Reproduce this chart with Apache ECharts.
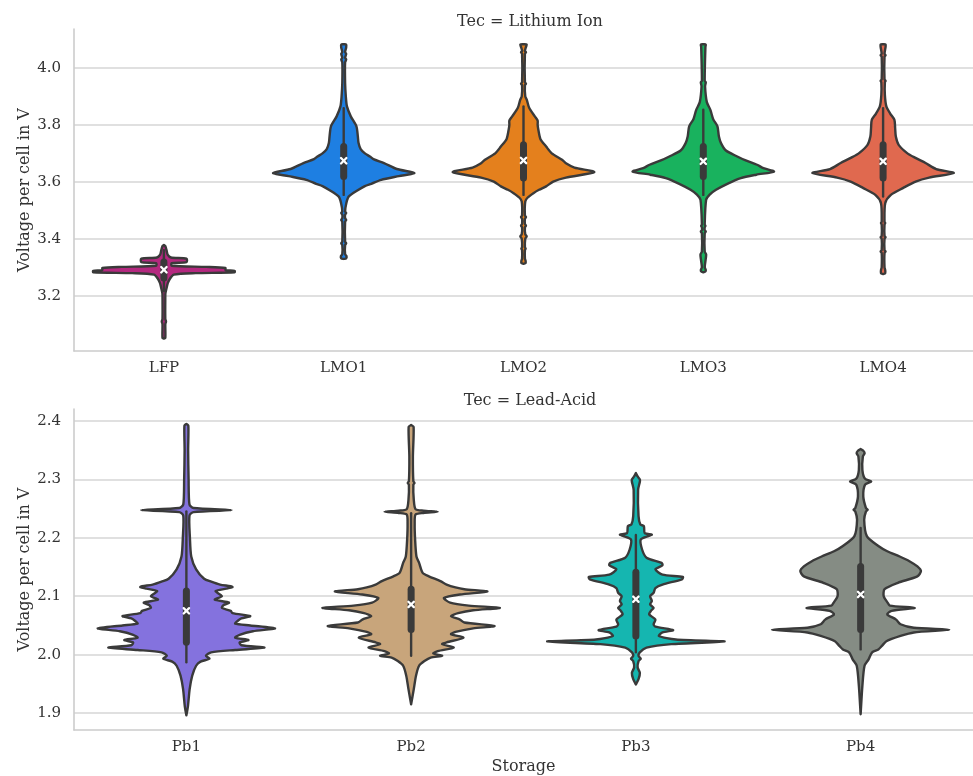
<!DOCTYPE html>
<html>
<head>
<meta charset="utf-8">
<script src="https://cdn.jsdelivr.net/npm/echarts@6/dist/echarts.min.js"></script>
<style>
  html, body { margin: 0; padding: 0; background: #ffffff; }
  #chart { width: 973px; height: 776px; }
</style>
</head>
<body>
<div id="chart"></div>
<script>
// ---- categories and tick labels ----
const liIonStorage = ['LFP', 'LMO1', 'LMO2', 'LMO3', 'LMO4'];
const leadAcidStorage = ['Pb1', 'Pb2', 'Pb3', 'Pb4'];
const liIonTicks = [3.2, 3.4, 3.6, 3.8, 4.0];
const leadAcidTicks = [1.9, 2.0, 2.1, 2.2, 2.3, 2.4];

// ---- kernel density outlines: [voltage, density relative to the widest point] ----
const lfpDensity = [
  [3.049, 0], [3.052, 0.02], [3.10, 0.02], [3.109, 0.03], [3.118, 0.02], [3.200, 0.02],
  [3.209, 0.022], [3.226, 0.037], [3.244, 0.055], [3.261, 0.09], [3.274, 0.14],
  [3.279, 0.45], [3.282, 1.0], [3.287, 1.0], [3.290, 0.87], [3.297, 0.87], [3.301, 0.6],
  [3.305, 0.11], [3.314, 0.11], [3.318, 0.32], [3.330, 0.32], [3.334, 0.1],
  [3.343, 0.055], [3.360, 0.037], [3.374, 0.02], [3.378, 0]
];
const lmo1Density = [
  [3.329, 0], [3.331, 0.035], [3.338, 0.04], [3.346, 0.02], [3.378, 0.02], [3.384, 0.035],
  [3.390, 0.02], [3.460, 0.02], [3.466, 0.035], [3.472, 0.02], [3.485, 0.02], [3.490, 0.035],
  [3.496, 0.02], [3.525, 0.037], [3.548, 0.07], [3.572, 0.21], [3.585, 0.30], [3.593, 0.39],
  [3.607, 0.53], [3.620, 0.78], [3.631, 1.0], [3.645, 0.75], [3.666, 0.57], [3.680, 0.42],
  [3.689, 0.37], [3.700, 0.30], [3.715, 0.24], [3.736, 0.21], [3.760, 0.20], [3.795, 0.18],
  [3.830, 0.10], [3.865, 0.046], [3.900, 0.03], [3.947, 0.02], [4.020, 0.02], [4.030, 0.035],
  [4.036, 0.02], [4.050, 0.035], [4.056, 0.02], [4.072, 0.035], [4.082, 0.035], [4.084, 0]
];
const lmo2Density = [
  [3.312, 0], [3.315, 0.03], [3.322, 0.03], [3.330, 0.02], [3.360, 0.02], [3.365, 0.03],
  [3.370, 0.02], [3.400, 0.025], [3.408, 0.045], [3.416, 0.025], [3.440, 0.02], [3.446, 0.035],
  [3.452, 0.02], [3.470, 0.02], [3.476, 0.035], [3.482, 0.02], [3.531, 0.025], [3.545, 0.06],
  [3.560, 0.14], [3.572, 0.22], [3.584, 0.32], [3.601, 0.42], [3.615, 0.60], [3.634, 1.0],
  [3.650, 0.72], [3.665, 0.60], [3.677, 0.55], [3.700, 0.40], [3.724, 0.32], [3.750, 0.24],
  [3.783, 0.21], [3.800, 0.20], [3.815, 0.20], [3.830, 0.16], [3.860, 0.08], [3.889, 0.046],
  [3.900, 0.025], [3.940, 0.02], [3.945, 0.035], [3.950, 0.02], [4.050, 0.02], [4.055, 0.035],
  [4.060, 0.02], [4.074, 0.035], [4.082, 0.045], [4.084, 0]
];
const lmo3Density = [
  [3.282, 0], [3.285, 0.03], [3.290, 0.035], [3.300, 0.02], [3.330, 0.035], [3.345, 0.04],
  [3.355, 0.02], [3.420, 0.02], [3.425, 0.035], [3.430, 0.02], [3.440, 0.02], [3.445, 0.03],
  [3.450, 0.02], [3.537, 0.04], [3.555, 0.09], [3.572, 0.18], [3.593, 0.34], [3.613, 0.53],
  [3.625, 0.75], [3.636, 1.0], [3.648, 0.85], [3.660, 0.76], [3.675, 0.60], [3.689, 0.48],
  [3.710, 0.32], [3.736, 0.25], [3.760, 0.22], [3.795, 0.20], [3.820, 0.14], [3.853, 0.10],
  [3.880, 0.05], [3.935, 0.025], [3.950, 0.035], [3.955, 0.02], [4.074, 0.03], [4.082, 0.035],
  [4.084, 0]
];
const lmo4Density = [
  [3.276, 0], [3.279, 0.03], [3.290, 0.03], [3.300, 0.02], [3.350, 0.02], [3.355, 0.035],
  [3.360, 0.02], [3.400, 0.02], [3.405, 0.035], [3.410, 0.02], [3.450, 0.02], [3.455, 0.03],
  [3.460, 0.02], [3.525, 0.03], [3.554, 0.11], [3.578, 0.28], [3.601, 0.46], [3.615, 0.65],
  [3.631, 1.0], [3.645, 0.75], [3.666, 0.60], [3.685, 0.45], [3.701, 0.34], [3.730, 0.22],
  [3.759, 0.18], [3.790, 0.17], [3.818, 0.16], [3.840, 0.10], [3.865, 0.046], [3.906, 0.025],
  [3.950, 0.025], [3.955, 0.035], [3.960, 0.02], [4.040, 0.02], [4.045, 0.035], [4.050, 0.02],
  [4.074, 0.035], [4.082, 0.035], [4.084, 0]
];
const pb1Density = [
  [1.896, 0], [1.912, 0.018], [1.941, 0.037], [1.964, 0.066], [1.981, 0.11], [1.988, 0.16],
  [1.993, 0.26], [1.998, 0.22], [2.004, 0.28], [2.008, 0.55], [2.012, 0.88], [2.016, 0.62],
  [2.021, 0.60], [2.025, 0.70], [2.029, 0.55], [2.034, 0.60], [2.040, 0.75], [2.045, 1.0],
  [2.050, 0.72], [2.053, 0.55], [2.058, 0.58], [2.062, 0.62], [2.066, 0.72], [2.071, 0.52],
  [2.075, 0.50], [2.080, 0.40], [2.085, 0.42], [2.089, 0.48], [2.094, 0.32], [2.100, 0.40],
  [2.105, 0.36], [2.109, 0.33], [2.113, 0.45], [2.116, 0.52], [2.120, 0.38], [2.125, 0.28],
  [2.130, 0.20], [2.146, 0.11], [2.168, 0.055], [2.200, 0.04], [2.238, 0.035], [2.244, 0.08],
  [2.2475, 0.51], [2.251, 0.08], [2.257, 0.035], [2.300, 0.025], [2.350, 0.02], [2.392, 0.022],
  [2.395, 0]
];
const pb2Density = [
  [1.915, 0], [1.941, 0.03], [1.964, 0.055], [1.981, 0.09], [1.989, 0.15], [1.995, 0.22],
  [1.998, 0.35], [2.002, 0.25], [2.006, 0.30], [2.012, 0.48], [2.018, 0.35], [2.021, 0.40],
  [2.029, 0.59], [2.035, 0.45], [2.039, 0.50], [2.045, 0.70], [2.049, 0.94], [2.055, 0.60],
  [2.060, 0.55], [2.066, 0.45], [2.071, 0.53], [2.076, 0.70], [2.080, 1.0], [2.084, 0.65],
  [2.089, 0.44], [2.097, 0.37], [2.103, 0.55], [2.108, 0.86], [2.112, 0.60], [2.115, 0.50],
  [2.120, 0.40], [2.126, 0.33], [2.134, 0.20], [2.140, 0.13], [2.157, 0.09], [2.168, 0.06],
  [2.197, 0.045], [2.225, 0.04], [2.240, 0.05], [2.2425, 0.14], [2.2445, 0.30], [2.2465, 0.14],
  [2.249, 0.05], [2.265, 0.03], [2.291, 0.025], [2.294, 0.038], [2.297, 0.025], [2.339, 0.02],
  [2.390, 0.028], [2.393, 0]
];
const pb3Density = [
  [1.949, 0], [1.958, 0.03], [1.969, 0.045], [1.978, 0.02], [1.989, 0.03], [1.993, 0.055],
  [1.998, 0.03], [2.004, 0.044], [2.012, 0.12], [2.018, 0.40], [2.0225, 1.0], [2.026, 0.45],
  [2.032, 0.26], [2.038, 0.30], [2.042, 0.42], [2.048, 0.22], [2.052, 0.20], [2.060, 0.22],
  [2.069, 0.15], [2.075, 0.17], [2.080, 0.20], [2.086, 0.16], [2.092, 0.18], [2.100, 0.16],
  [2.106, 0.20], [2.114, 0.22], [2.120, 0.30], [2.129, 0.52], [2.133, 0.53], [2.137, 0.30],
  [2.146, 0.22], [2.153, 0.30], [2.157, 0.29], [2.166, 0.12], [2.180, 0.07], [2.197, 0.055],
  [2.203, 0.14], [2.2055, 0.18], [2.208, 0.10], [2.220, 0.09], [2.223, 0.05], [2.237, 0.03],
  [2.282, 0.025], [2.296, 0.045], [2.300, 0.045], [2.305, 0.02], [2.311, 0]
];
const pb4Density = [
  [1.898, 0], [1.947, 0.02], [1.981, 0.044], [1.992, 0.09], [2.004, 0.13], [2.009, 0.20],
  [2.015, 0.24], [2.023, 0.29], [2.032, 0.45], [2.038, 0.60], [2.0425, 1.0], [2.046, 0.60],
  [2.052, 0.45], [2.060, 0.40], [2.069, 0.30], [2.075, 0.35], [2.080, 0.61], [2.084, 0.33],
  [2.090, 0.30], [2.100, 0.26], [2.112, 0.27], [2.123, 0.42], [2.134, 0.64], [2.143, 0.68],
  [2.151, 0.64], [2.160, 0.55], [2.168, 0.44], [2.177, 0.30], [2.186, 0.20], [2.203, 0.07],
  [2.231, 0.04], [2.245, 0.06], [2.248, 0.08], [2.251, 0.06], [2.271, 0.03], [2.291, 0.05],
  [2.2965, 0.12], [2.301, 0.05], [2.316, 0.02], [2.339, 0.025], [2.345, 0.045], [2.349, 0.03],
  [2.352, 0]
];

// ---- inner box: [lower whisker, q1, median, q3, upper whisker] ----
const lfpBox = [3.216, 3.262, 3.291, 3.318, 3.360];
const lmo1Box = [3.554, 3.619, 3.674, 3.724, 3.859];
const lmo2Box = [3.554, 3.613, 3.675, 3.730, 3.865];
const lmo3Box = [3.554, 3.619, 3.672, 3.724, 3.853];
const lmo4Box = [3.548, 3.613, 3.672, 3.730, 3.859];
const pb1Box = [1.987, 2.021, 2.075, 2.109, 2.245];
const pb2Box = [1.998, 2.043, 2.086, 2.112, 2.242];
const pb3Box = [2.004, 2.032, 2.095, 2.141, 2.205];
const pb4Box = [2.009, 2.043, 2.103, 2.151, 2.217];

// ---- appearance ----
const liIonColors = ['#b4287f', '#1e7fe2', '#e4801d', '#19b25e', '#e0694f'];
const leadAcidColors = ['#8472de', '#c8a57b', '#15b6b0', '#858c84'];
const EDGE = '#3a3a3a';
const FONT = 'DejaVu Serif';

function violinRenderer(densities, boxes, colors) {
  return function (params, api) {
    const idx = api.value(0);
    const dens = densities[idx];
    const box = boxes[idx];
    const halfBand = api.size([1, 0])[0] * 0.4 - 1.2;
    const cx = api.coord([idx, box[2]])[0];
    const yOf = v => api.coord([idx, v])[1];
    const right = [], left = [];
    dens.forEach(function (p) {
      const y = yOf(p[0]);
      // keep near-empty tails visible as a thin outlined sliver
      const w = p[1] > 0 ? Math.max(p[1] * halfBand, 1.0) : 0;
      right.push([cx + w, y]);
      left.push([cx - w, y]);
    });
    const pts = right.concat(left.reverse());
    const ym = yOf(box[2]);
    const m = 2.7;
    return {
      type: 'group',
      children: [
        { type: 'polygon', shape: { points: pts, smooth: 0.25 },
          style: { fill: colors[idx], stroke: EDGE, lineWidth: 2.4, lineJoin: 'round' } },
        { type: 'line', shape: { x1: cx, y1: yOf(box[0]), x2: cx, y2: yOf(box[4]) },
          style: { stroke: EDGE, lineWidth: 2.4, lineCap: 'round' } },
        { type: 'line', shape: { x1: cx, y1: yOf(box[1]), x2: cx, y2: yOf(box[3]) },
          style: { stroke: EDGE, lineWidth: 7, lineCap: 'round' } },
        { type: 'line', shape: { x1: cx - m, y1: ym - m, x2: cx + m, y2: ym + m },
          style: { stroke: '#ffffff', lineWidth: 2.3, lineCap: 'round' } },
        { type: 'line', shape: { x1: cx - m, y1: ym + m, x2: cx + m, y2: ym - m },
          style: { stroke: '#ffffff', lineWidth: 2.3, lineCap: 'round' } }
      ]
    };
  };
}

const axisLineStyle = { color: '#cccccc', width: 1.6 };
const gridLineStyle = { color: '#d6d6d6', width: 1.5 };
const tickText = { color: '#333333', fontSize: 15, fontFamily: FONT };
const nameText = { color: '#333333', fontSize: 16, fontFamily: FONT };

function catAxis(gridIndex, cats, extra) {
  return Object.assign({
    type: 'category', gridIndex: gridIndex, data: cats, boundaryGap: true,
    axisLine: { show: true, lineStyle: axisLineStyle },
    axisTick: { show: false },
    axisLabel: Object.assign({ margin: 10 }, tickText),
    splitLine: { show: false }
  }, extra || {});
}

function valAxis(gridIndex, min, max, ticks) {
  return {
    type: 'value', gridIndex: gridIndex, min: min, max: max,
    name: 'Voltage per cell in V', nameLocation: 'middle', nameGap: 41,
    nameMoveOverlap: false,
    nameTextStyle: nameText,
    axisLine: { show: true, lineStyle: axisLineStyle },
    axisTick: { show: false, customValues: ticks },
    axisLabel: Object.assign({ margin: 13, customValues: ticks,
      formatter: v => Number(v).toFixed(1) }, tickText),
    splitLine: { show: true, lineStyle: gridLineStyle }
  };
}

const chart = echarts.init(document.getElementById('chart'), null, { renderer: 'canvas' });
chart.setOption({
  animation: false,
  backgroundColor: '#ffffff',
  textStyle: { fontFamily: FONT },
  title: [
    { text: 'Tec = Lithium Ion', left: 525, top: 9, textAlign: 'center',
      textStyle: Object.assign({ fontWeight: 'normal' }, nameText) },
    { text: 'Tec = Lead-Acid', left: 525, top: 388, textAlign: 'center',
      textStyle: Object.assign({ fontWeight: 'normal' }, nameText) }
  ],
  grid: [
    { left: 74, top: 29, width: 903, height: 322 },
    { left: 74, top: 409, width: 903, height: 322 }
  ],
  xAxis: [
    catAxis(0, liIonStorage),
    catAxis(1, leadAcidStorage, { name: 'Storage', nameLocation: 'middle', nameGap: 29,
      nameMoveOverlap: false, nameTextStyle: nameText })
  ],
  yAxis: [
    valAxis(0, 3.0055, 4.137, liIonTicks),
    valAxis(1, 1.871, 2.4205, leadAcidTicks)
  ],
  series: [
    { type: 'custom', xAxisIndex: 0, yAxisIndex: 0,
      renderItem: violinRenderer(
        [lfpDensity, lmo1Density, lmo2Density, lmo3Density, lmo4Density],
        [lfpBox, lmo1Box, lmo2Box, lmo3Box, lmo4Box], liIonColors),
      data: liIonStorage.map((c, i) => [i, [lfpBox, lmo1Box, lmo2Box, lmo3Box, lmo4Box][i][2]]),
      encode: { x: 0, y: 1 } },
    { type: 'custom', xAxisIndex: 1, yAxisIndex: 1,
      renderItem: violinRenderer(
        [pb1Density, pb2Density, pb3Density, pb4Density],
        [pb1Box, pb2Box, pb3Box, pb4Box], leadAcidColors),
      data: leadAcidStorage.map((c, i) => [i, [pb1Box, pb2Box, pb3Box, pb4Box][i][2]]),
      encode: { x: 0, y: 1 } }
  ]
});
</script>
</body>
</html>
